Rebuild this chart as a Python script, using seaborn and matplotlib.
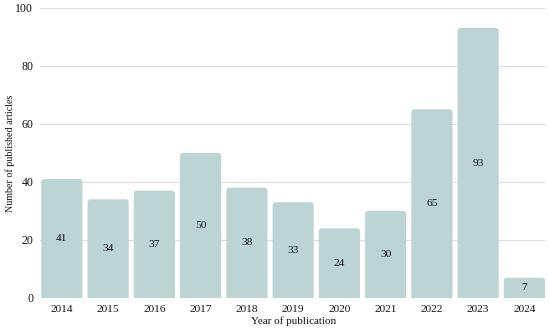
import matplotlib
matplotlib.use("Agg")
import matplotlib.pyplot as plt
import seaborn as sns
import pandas as pd
from matplotlib.patches import FancyBboxPatch

years = ["2014", "2015", "2016", "2017", "2018", "2019", "2020", "2021", "2022", "2023", "2024"]
articles = [41, 34, 37, 50, 38, 33, 24, 30, 65, 93, 7]

df = pd.DataFrame({"year": years, "n": articles})

sns.set_theme(style="white")
plt.rcParams["font.family"] = ["Liberation Serif", "DejaVu Serif"]

bar_color = "#bcd4d4"
text_color = "#111111"

fig = plt.figure(figsize=(5.5, 3.31), dpi=100)
ax = fig.add_axes([0.073, 0.0997, 0.92, 0.877])

sns.barplot(data=df, x="year", y="n", color=bar_color, width=0.89,
            saturation=1, ax=ax, zorder=2)

ax.set_ylim(0, 100)
ax.set_xlim(-0.47, len(years) - 0.53)
ax.set_yticks([0, 20, 40, 60, 80, 100])
ax.yaxis.grid(True, color="#dedede", linewidth=0.8, zorder=0)
ax.set_axisbelow(True)
for s in ax.spines.values():
    s.set_visible(False)

# rounded tops: swap rectangles for rounded boxes, hiding bottom corners below 0
x_per_px = (ax.get_xlim()[1] - ax.get_xlim()[0]) / (0.92 * 550)
y_per_px = 100 / (0.877 * 331)
aspect = y_per_px / x_per_px
r = 3 * x_per_px
for p in list(ax.patches):
    x, w, h = p.get_x(), p.get_width(), p.get_height()
    p.remove()
    fb = FancyBboxPatch((x, -r * aspect), w, h + r * aspect,
                        boxstyle=f"round,pad=0,rounding_size={r}",
                        mutation_aspect=aspect, facecolor=bar_color,
                        edgecolor="none", zorder=2)
    ax.add_patch(fb)

for i, v in enumerate(articles):
    ax.text(i, v / 2, str(v), ha="center", va="center", fontsize=8.2, color=text_color)

ax.tick_params(axis="x", length=0, labelsize=8.2, colors=text_color, pad=5)
ax.tick_params(axis="y", length=0, labelsize=8.5, colors=text_color, pad=5)
ax.set_xlabel("Year of publication", fontsize=8, color=text_color, labelpad=2)
ax.set_ylabel("Number of published articles", fontsize=7.2, color=text_color)
ax.yaxis.set_label_coords(-0.05, 0.5)

fig.savefig("out.png", dpi=100)
